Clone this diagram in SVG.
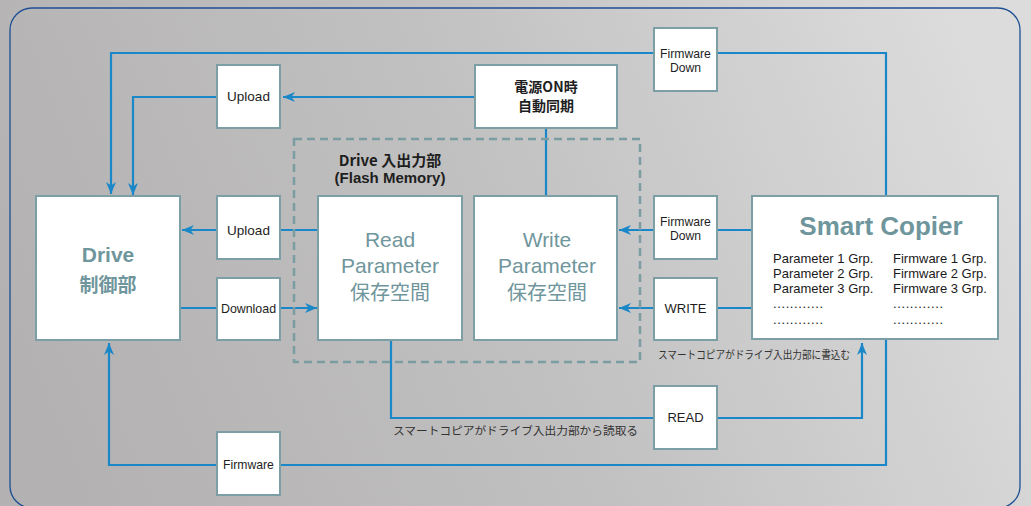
<svg xmlns="http://www.w3.org/2000/svg" width="1031" height="506" viewBox="0 0 1031 506">
<defs>
<linearGradient id="bg" x1="0" y1="0.6" x2="1" y2="0.4">
<stop offset="0" stop-color="#b3b1b1"/>
<stop offset="0.5" stop-color="#c2c1c1"/>
<stop offset="1" stop-color="#dcdcdc"/>
</linearGradient>
<marker id="ah" viewBox="0 0 12 10" refX="12" refY="5" markerWidth="12" markerHeight="10" orient="auto" markerUnits="userSpaceOnUse">
<path d="M0,0 L12,5 L0,10 L3.5,5 z" fill="#1a88c8"/>
</marker>
</defs>
<style>
.box{fill:#ffffff;stroke:#7b9fa5;stroke-width:2}
.con{fill:none;stroke:#1a88c8;stroke-width:2.2}
.lbl{font-family:"Liberation Sans",Arial,sans-serif;fill:#1e1e1e;text-anchor:middle}
.big{font-family:"Liberation Sans",Arial,"Noto Sans CJK JP",sans-serif;fill:#6f969c;text-anchor:middle}
.jp{font-family:"Noto Sans CJK JP","Liberation Sans",sans-serif}
.list{font-family:"Liberation Sans",Arial,sans-serif;fill:#1a1a1a;font-size:13px}
.note{font-family:"Noto Sans CJK JP",sans-serif;fill:#333333;font-size:11px}
</style>
<rect x="0" y="0" width="1031" height="506" fill="url(#bg)"/>
<rect x="10" y="8" width="1010" height="500" rx="22" fill="none" stroke="#1d4f94" stroke-width="1.3"/>

<g id="connectors">
<path class="con" d="M886,196 V53 H111 V194" marker-end="url(#ah)"/>
<path class="con" d="M475,97 H283" marker-end="url(#ah)"/>
<path class="con" d="M217,97 H133 V195" marker-end="url(#ah)"/>
<path class="con" d="M546,128 V196"/>
<path class="con" d="M318,230 H182" marker-end="url(#ah)"/>
<path class="con" d="M180,308 H317" marker-end="url(#ah)"/>
<path class="con" d="M752,230 H619" marker-end="url(#ah)"/>
<path class="con" d="M752,308 H619" marker-end="url(#ah)"/>
<path class="con" d="M391,340 V418 H862 V343" marker-end="url(#ah)"/>
<path class="con" d="M886,339 V465 H109 V343" marker-end="url(#ah)"/>
</g>

<g id="flash-group">
<rect x="294" y="139" width="346" height="223" fill="none" stroke="#7a9da2" stroke-width="2.5" stroke-dasharray="8 5"/>
<text class="lbl jp" x="390" y="166" font-size="15" font-weight="bold">Drive 入出力部</text>
<text class="lbl" x="390" y="183" font-size="15" font-weight="bold">(Flash Memory)</text>
</g>

<g id="upload-top">
<rect class="box" x="217" y="65" width="63" height="63"/>
<text class="lbl" x="248.5" y="101" font-size="13.5">Upload</text>
</g>
<g id="power-on-sync">
<rect class="box" x="475" y="65" width="142" height="63"/>
<text class="lbl jp" x="546" y="92" font-size="14" font-weight="bold">電源ON時</text>
<text class="lbl jp" x="546" y="111" font-size="14" font-weight="bold">自動同期</text>
</g>
<g id="firmware-down-top">
<rect class="box" x="654" y="28" width="63" height="63"/>
<text class="lbl" x="685.5" y="58" font-size="12.2">Firmware</text>
<text class="lbl" x="685.5" y="72" font-size="12.2">Down</text>
</g>
<g id="drive">
<rect class="box" x="36" y="196" width="144" height="144"/>
<text class="big" x="108" y="262" font-size="21" font-weight="bold">Drive</text>
<text class="big jp" x="108" y="292" font-size="19" font-weight="bold">制御部</text>
</g>
<g id="upload-mid">
<rect class="box" x="217" y="196" width="63" height="63"/>
<text class="lbl" x="248.5" y="235" font-size="13.5">Upload</text>
</g>
<g id="download">
<rect class="box" x="217" y="278" width="63" height="62"/>
<text class="lbl" x="248.5" y="313" font-size="12.4">Download</text>
</g>
<g id="read-parameter">
<rect class="box" x="318" y="196" width="144" height="144"/>
<text class="big" x="390" y="247" font-size="21">Read</text>
<text class="big" x="390" y="273" font-size="21">Parameter</text>
<text class="big jp" x="390" y="300" font-size="20">保存空間</text>
</g>
<g id="write-parameter">
<rect class="box" x="474" y="196" width="143" height="144"/>
<text class="big" x="547" y="247" font-size="21">Write</text>
<text class="big" x="547" y="273" font-size="21">Parameter</text>
<text class="big jp" x="547" y="300" font-size="20">保存空間</text>
</g>
<g id="firmware-down-mid">
<rect class="box" x="654" y="196" width="63" height="63"/>
<text class="lbl" x="685.5" y="226" font-size="12.2">Firmware</text>
<text class="lbl" x="685.5" y="240" font-size="12.2">Down</text>
</g>
<g id="write">
<rect class="box" x="654" y="278" width="63" height="62"/>
<text class="lbl" x="685.5" y="313" font-size="13">WRITE</text>
</g>
<g id="smart-copier">
<rect class="box" x="752" y="196" width="246" height="143"/>
<text class="big" x="881" y="235" font-size="26" font-weight="bold">Smart Copier</text>
<text class="list" x="773" y="263">Parameter 1 Grp.</text>
<text class="list" x="773" y="278">Parameter 2 Grp.</text>
<text class="list" x="773" y="293">Parameter 3 Grp.</text>
<text class="list" x="773" y="308" textLength="50" lengthAdjust="spacing">............</text>
<text class="list" x="773" y="324" textLength="50" lengthAdjust="spacing">............</text>
<text class="list" x="893" y="263">Firmware 1 Grp.</text>
<text class="list" x="893" y="278">Firmware 2 Grp.</text>
<text class="list" x="893" y="293">Firmware 3 Grp.</text>
<text class="list" x="893" y="308" textLength="50" lengthAdjust="spacing">............</text>
<text class="list" x="893" y="324" textLength="50" lengthAdjust="spacing">............</text>
</g>
<g id="read">
<rect class="box" x="654" y="386" width="63" height="63"/>
<text class="lbl" x="685.5" y="422" font-size="13">READ</text>
</g>
<g id="firmware-bottom">
<rect class="box" x="217" y="432" width="63" height="63"/>
<text class="lbl" x="248.5" y="469" font-size="12.2">Firmware</text>
</g>
<g id="notes">
<text class="note" x="658" y="359" textLength="192" lengthAdjust="spacingAndGlyphs">スマートコピアがドライブ入出力部に書込む</text>
<text class="note" x="393" y="435" textLength="245" lengthAdjust="spacingAndGlyphs">スマートコピアがドライブ入出力部から読取る</text>
</g>
</svg>
